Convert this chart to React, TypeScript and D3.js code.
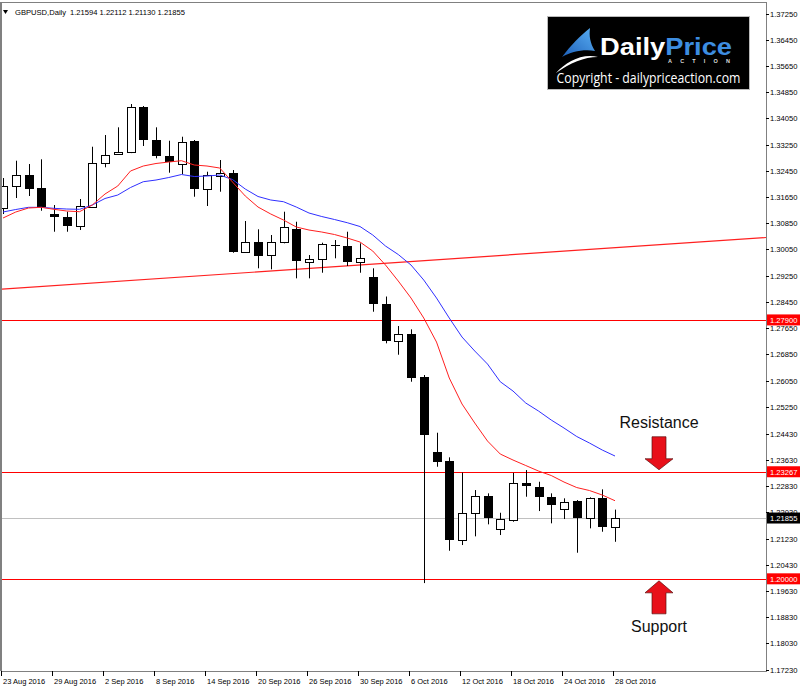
import React from 'react';
import * as d3 from 'd3';

const dates = [
  '23 Aug 2016','24 Aug 2016','25 Aug 2016','26 Aug 2016','29 Aug 2016','30 Aug 2016','31 Aug 2016',
  '1 Sep 2016','2 Sep 2016','5 Sep 2016','6 Sep 2016','7 Sep 2016','8 Sep 2016','9 Sep 2016',
  '12 Sep 2016','13 Sep 2016','14 Sep 2016','15 Sep 2016','16 Sep 2016','19 Sep 2016','20 Sep 2016',
  '21 Sep 2016','22 Sep 2016','23 Sep 2016','26 Sep 2016','27 Sep 2016','28 Sep 2016','29 Sep 2016',
  '30 Sep 2016','3 Oct 2016','4 Oct 2016','5 Oct 2016','6 Oct 2016','7 Oct 2016','10 Oct 2016',
  '11 Oct 2016','12 Oct 2016','13 Oct 2016','14 Oct 2016','17 Oct 2016','18 Oct 2016','19 Oct 2016',
  '20 Oct 2016','21 Oct 2016','24 Oct 2016','25 Oct 2016','26 Oct 2016','27 Oct 2016','28 Oct 2016'
];

const opens = [
  1.31315,1.31986,1.32322,1.31916,1.31122,1.31049,1.30765,1.31354,1.32697,1.32953,
  1.33024,1.34406,1.33390,1.32911,1.32657,1.33359,1.31885,1.32291,1.32392,1.29981,
  1.30286,1.29880,1.30286,1.30674,1.29667,1.29749,1.30186,1.30164,1.29676,1.29200,
  1.28385,1.27271,1.27470,1.26148,1.23878,1.23594,1.21183,1.22007,1.22526,1.21510,
  1.21803,1.22914,1.22810,1.22486,1.22120,1.22364,1.21846,1.22456,1.21594
];
const highs = [
  1.32230,1.32758,1.32657,1.32801,1.31406,1.31202,1.31589,1.33185,1.33542,1.33777,
  1.34488,1.34427,1.33777,1.33368,1.33490,1.33390,1.32422,1.32779,1.32474,1.30918,
  1.30665,1.30491,1.31202,1.30896,1.29880,1.30256,1.30338,1.30591,1.30237,1.29475,
  1.28614,1.27714,1.27613,1.26218,1.24458,1.23707,1.23243,1.22709,1.22608,1.22016,
  1.23234,1.23319,1.22962,1.22608,1.22456,1.22404,1.22486,1.22730,1.22112
];
const lows = [
  1.31132,1.31620,1.31681,1.31232,1.30591,1.30591,1.30643,1.31336,1.32557,1.32932,
  1.32990,1.33207,1.32831,1.32392,1.32352,1.31659,1.31376,1.31812,1.29950,1.29951,
  1.29475,1.29444,1.30237,1.29169,1.29169,1.29340,1.29780,1.29545,1.29340,1.28150,
  1.27186,1.26838,1.26014,1.19870,1.23420,1.20857,1.21031,1.21296,1.21662,1.21336,
  1.21742,1.22505,1.22068,1.21693,1.21824,1.20796,1.21540,1.21437,1.21130
];
const closes = [
  1.31986,1.32322,1.31885,1.31336,1.31031,1.30765,1.31376,1.32697,1.32932,1.33033,
  1.34388,1.33390,1.32901,1.32709,1.33338,1.31885,1.32322,1.32374,1.29981,1.30286,
  1.29850,1.30286,1.30744,1.29697,1.29749,1.30216,1.30155,1.29676,1.29780,1.28385,
  1.27247,1.27463,1.26118,1.24388,1.23573,1.21183,1.22007,1.22517,1.21855,1.21815,
  1.22914,1.22831,1.22486,1.22242,1.22352,1.21846,1.22456,1.21589,1.21855
];

// moving averages (red = fast, blue = slow)
const maFast = [
  1.31009,1.31193,1.31315,1.31336,1.31275,1.31223,1.31202,1.31406,1.31742,1.31986,
  1.32444,1.32596,1.32673,1.32718,1.32758,1.32627,1.32596,1.32535,1.32108,1.31681,
  1.31345,1.31132,1.30948,1.30735,1.30643,1.30582,1.30506,1.30399,1.30277,1.30002,
  1.29575,1.29087,1.28568,1.27958,1.27225,1.26127,1.25334,1.24754,1.24204,1.23808,
  1.23625,1.23457,1.23289,1.23152,1.22953,1.22785,1.22694,1.22557,1.22383
];
const maSlow = [
  1.31193,1.31269,1.31336,1.31336,1.31305,1.31284,1.31275,1.31406,1.31605,1.31711,
  1.31940,1.32117,1.32169,1.32245,1.32337,1.32276,1.32291,1.32322,1.32184,1.31894,
  1.31666,1.31559,1.31507,1.31345,1.31162,1.31055,1.30964,1.30866,1.30750,1.30491,
  1.30155,1.29896,1.29575,1.29117,1.28568,1.27958,1.27378,1.26951,1.26554,1.26014,
  1.25730,1.25364,1.25120,1.24845,1.24601,1.24342,1.24143,1.23930,1.23747
];

const yTickValues = [
  1.3725,1.3645,1.3565,1.3485,1.3405,1.3325,1.3245,1.3165,1.3085,1.3005,1.2925,1.2845,1.2765,
  1.2685,1.2605,1.2525,1.2443,1.2363,1.2283,1.2203,1.2123,1.2043,1.1963,1.1883,1.1803,1.1723
];
const xTickLabels = [
  '23 Aug 2016','29 Aug 2016','2 Sep 2016','8 Sep 2016','14 Sep 2016','20 Sep 2016','26 Sep 2016',
  '30 Sep 2016','6 Oct 2016','12 Oct 2016','18 Oct 2016','24 Oct 2016','28 Oct 2016'
];
const levels = [1.279, 1.23267, 1.2];
const lastPrice = 1.21855;
const trendIdx = [0, 48];
const trendPrice = [1.2884, 1.30103];
const headerSymbol = 'GBPUSD,Daily';
const headerOhlc = '1.21594 1.22112 1.21130 1.21855';
const resistanceLabel = 'Resistance';
const supportLabel = 'Support';

const W = 800, H = 689;
const PL = 2, PR = 766, PT = 2, PB = 671;
const AXIS_FONT = '"Liberation Sans", Arial, sans-serif';

export default function App() {
  const x = d3.scalePoint<string>().domain(dates).range([3, 615]);
  const xi = d3.scaleLinear().domain([0, dates.length - 1]).range([3, 615]);
  const y = d3.scaleLinear().domain([1.1723, 1.3725]).range([669.6, 13.5]);

  const line = d3.line<number>().x((_, i) => xi(i)).y(v => y(v)).curve(d3.curveLinear);

  const slope = (trendPrice[1] - trendPrice[0]) / (trendIdx[1] - trendIdx[0]);
  const iL = xi.invert(PL), iR = xi.invert(PR);
  const tY1 = y(trendPrice[0] + slope * (iL - trendIdx[0]));
  const tY2 = y(trendPrice[0] + slope * (iR - trendIdx[0]));

  const yr = (p: number) => Math.round(y(p)) + 0.5;
  const resY = y(levels[1]);
  const supY = y(levels[2]);
  const ax = 659;

  return (
    <svg width={W} height={H} style={{ position: 'absolute', left: 0, top: 0, background: '#fff' }}
      xmlns="http://www.w3.org/2000/svg">
      <defs>
        <clipPath id="plot"><rect x={PL} y={PT} width={PR - PL} height={PB - PT} /></clipPath>
        <linearGradient id="sail" x1="0" y1="1" x2="1" y2="0">
          <stop offset="0" stopColor="#1d5fb8" />
          <stop offset="1" stopColor="#5ab0f5" />
        </linearGradient>
      </defs>
      <rect x={0} y={0} width={W} height={H} fill="#fff" />

      {/* frame */}
      <line x1={PL} x2={PR} y1={PT + 0.5} y2={PT + 0.5} stroke="#808080" />
      <line x1={PL} x2={PR} y1={PB + 0.5} y2={PB + 0.5} stroke="#808080" />
      <line x1={PL - 1} x2={PL - 1} y1={PT} y2={PB} stroke="#808080" strokeWidth={2} />
      <line x1={PR + 0.5} x2={PR + 0.5} y1={PT} y2={PB + 1} stroke="#808080" />

      <g clipPath="url(#plot)">
        {/* horizontal levels */}
        {levels.map(l => (
          <line key={l} x1={PL} x2={PR} y1={yr(l)} y2={yr(l)} stroke="#ff0000" strokeWidth={1} />
        ))}
        <line x1={PL} x2={PR} y1={yr(lastPrice)} y2={yr(lastPrice)} stroke="#c0c0c0" strokeWidth={1} />
        {/* trendline */}
        <line x1={PL} x2={PR} y1={tY1} y2={tY2} stroke="#ff2020" strokeWidth={1.2} />

        {/* candles */}
        {dates.map((d, i) => {
          const cx = Math.round(x(d)!);
          const o = opens[i], c = closes[i], h = highs[i], l = lows[i];
          const top = Math.round(y(Math.max(o, c)));
          const bot = Math.round(y(Math.min(o, c)));
          const bear = c < o;
          return (
            <g key={d}>
              <line x1={cx + 0.5} x2={cx + 0.5} y1={y(h)} y2={y(l)} stroke="#000" strokeWidth={1} />
              {bear ? (
                <rect x={cx - 4} y={top} width={9} height={Math.max(1, bot - top)} fill="#000" />
              ) : (
                <rect x={cx - 3.5} y={top + 0.5} width={8} height={Math.max(1, bot - top)} fill="#fff"
                  stroke="#000" strokeWidth={1} />
              )}
            </g>
          );
        })}

        {/* moving averages */}
        <path d={line(maSlow)!} fill="none" stroke="#3030ff" strokeWidth={1} />
        <path d={line(maFast)!} fill="none" stroke="#ff2020" strokeWidth={1} />
      </g>

      {/* header */}
      <polygon points="3,10 8,10 5.5,14" fill="#000" />
      <text x={15} y={14.5} fontFamily={AXIS_FONT} fontSize={7.6} fill="#000">{headerSymbol}</text>
      <text x={70} y={14.5} fontFamily={AXIS_FONT} fontSize={7.6} fill="#000">{headerOhlc}</text>

      {/* right axis */}
      {yTickValues.map(v => (
        <g key={v}>
          <line x1={PR} x2={PR + 3} y1={yr(v)} y2={yr(v)} stroke="#000" />
          <text x={770} y={y(v) + 3} fontFamily={AXIS_FONT} fontSize={7.6} fill="#000">{v.toFixed(5)}</text>
        </g>
      ))}
      {levels.map(l => (
        <g key={'lab' + l}>
          <rect x={767} y={y(l) - 5.5} width={33} height={11} fill="#ff0000" />
          <text x={770} y={y(l) + 3} fontFamily={AXIS_FONT} fontSize={7.6} fill="#fff">{l.toFixed(5)}</text>
        </g>
      ))}
      <rect x={767} y={y(lastPrice) - 5.5} width={33} height={11} fill="#000" />
      <text x={770} y={y(lastPrice) + 3} fontFamily={AXIS_FONT} fontSize={7.6} fill="#fff">{lastPrice.toFixed(5)}</text>

      {/* bottom axis */}
      {xTickLabels.map(lbl => {
        const tx = Math.round(x(lbl)!) - 2;
        return (
          <g key={lbl}>
            <line x1={tx + 0.5} x2={tx + 0.5} y1={PB} y2={PB + 5} stroke="#000" />
            <text x={tx + 2} y={684} fontFamily={AXIS_FONT} fontSize={7.5} fill="#000">{lbl}</text>
          </g>
        );
      })}

      {/* annotations */}
      <text x={ax} y={resY - 44} textAnchor="middle" fontFamily={AXIS_FONT} fontSize={16} fill="#111">{resistanceLabel}</text>
      <polygon
        points={`${ax - 7},${resY - 35} ${ax + 7},${resY - 35} ${ax + 7},${resY - 13} ${ax + 14},${resY - 13} ${ax},${resY - 2} ${ax - 14},${resY - 13} ${ax - 7},${resY - 13}`}
        fill="#e8101a" stroke="#5a1010" strokeWidth={0.7} />
      <polygon
        points={`${ax},${supY + 2} ${ax + 14},${supY + 14} ${ax + 7},${supY + 14} ${ax + 7},${supY + 35} ${ax - 7},${supY + 35} ${ax - 7},${supY + 14} ${ax - 14},${supY + 14}`}
        fill="#e8101a" stroke="#5a1010" strokeWidth={0.7} />
      <text x={ax} y={supY + 53} textAnchor="middle" fontFamily={AXIS_FONT} fontSize={16} fill="#111">{supportLabel}</text>

      {/* logo */}
      <rect x={547.5} y={16.5} width={202} height={73} fill="#000" stroke="#bbb" strokeWidth={1} />
      <path d="M562 57 C571 45 580 36 590 28 C589 36 590 43 595 51 C583 49 571 52 562 57 Z" fill="url(#sail)" />
      <path d="M556 73 C566 62 582 53 598 57 C584 57 570 63 556 73 Z" fill="#fff" />
      <text x={600} y={55} fontFamily={AXIS_FONT} fontWeight="bold" fontSize={23} textLength={132}
        lengthAdjust="spacingAndGlyphs">
        <tspan fill="#fff">Daily</tspan><tspan fill="#3d8de0">Price</tspan>
      </text>
      <text x={668} y={63} fontFamily={AXIS_FONT} fontWeight="bold" fontSize={5.5} fill="#ddd"
        textLength={62} lengthAdjust="spacing">ACTION</text>
      <text x={556.5} y={82.5} fontFamily='"Open Sans", sans-serif' fontSize={14} fill="#fff"
        textLength={184} lengthAdjust="spacingAndGlyphs">Copyright - dailypriceaction.com</text>
    </svg>
  );
}
